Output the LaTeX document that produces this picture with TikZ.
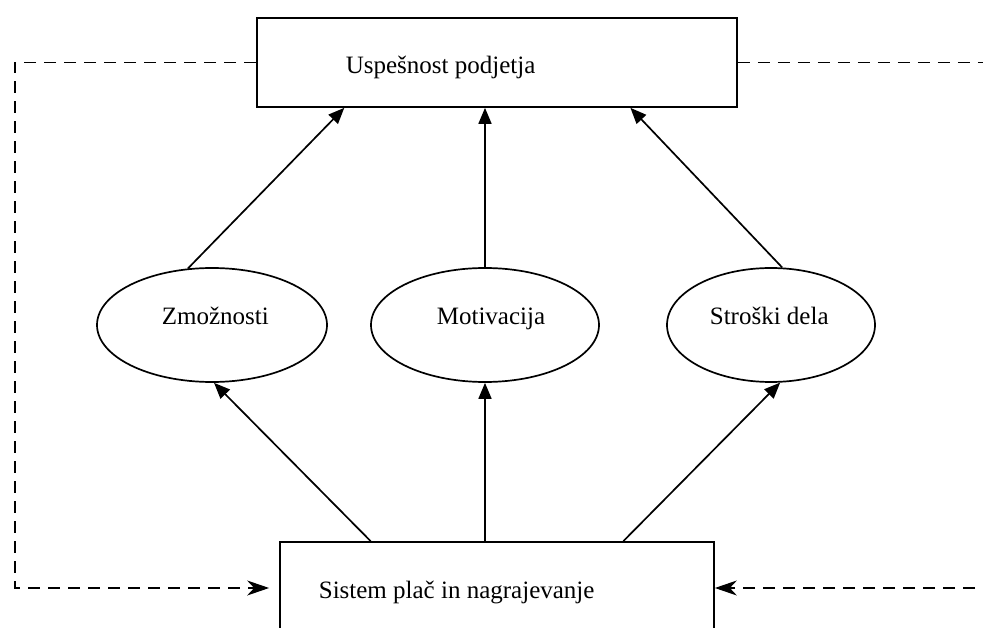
\documentclass[tikz,border=0pt]{standalone}
\usepackage{fontspec}
\setmainfont{Liberation Serif}
\usetikzlibrary{shapes.geometric,arrows.meta,calc}
\begin{document}
\begin{tikzpicture}[x=1pt,y=-1pt, line width=1.7pt,
  box/.style={draw, rectangle, inner sep=0pt},
  oval/.style={draw, ellipse, inner sep=0pt, minimum height=114pt},
  lbl/.style={anchor=base west, inner sep=0pt, font=\fontsize{25}{29}\selectfont},
  solidarrow/.style={-{Triangle[length=16pt,width=13pt]}},
  fbline/.style={dash pattern=on 12pt off 8pt},
  fb/.style={fbline, -{Stealth[length=22pt,width=15pt,inset=7pt]}}]
\useasboundingbox (0,0) rectangle (983,628);
\clip (0,0) rectangle (983,628);

\node[box, minimum width=480pt, minimum height=89pt] (top) at (497,62.5) {};
\node[box, minimum width=434pt, minimum height=92pt] (bot) at (497,588) {};
\node[oval, minimum width=230pt] (zm) at (212,325) {};
\node[oval, minimum width=228pt] (mo) at (485,325) {};
\node[oval, minimum width=208pt] (st) at (771,325) {};

\node[lbl] (tU) at (345,74) {Uspešnost podjetja};
\node[lbl] (tZ) at (161,325) {Zmožnosti};
\node[lbl] (tM) at (436,325) {Motivacija};
\node[lbl] (tS) at (709,325) {Stroški dela};
\node[lbl] (tB) at (318,598) {Sistem plač in nagrajevanje};

\draw[solidarrow] (zm.113) -- ($(top.south west)!0.183!(top.south east)$);
\draw[solidarrow] (mo.north) -- (mo.north |- top.south);
\draw[solidarrow] (st.79) -- ($(top.south west)!0.777!(top.south east)$);
\draw[solidarrow] ($(bot.north west)!0.21!(bot.north east)$) -- (zm.-88);
\draw[solidarrow] (bot.north -| mo.south) -- (mo.south);
\draw[solidarrow] ($(bot.north west)!0.79!(bot.north east)$) -- (st.-81);

\coordinate (lc) at (15,0);
\coordinate (re) at (995,0);
\draw[fb] (top.west) -- (top.west -| lc) -- (lc |- bot.west) -- ([xshift=-10pt]bot.west);
\draw[fbline] (top.east) -- (top.east -| re);
\draw[fb] (bot.east -| re) -- (bot.east);
\end{tikzpicture}
\end{document}
